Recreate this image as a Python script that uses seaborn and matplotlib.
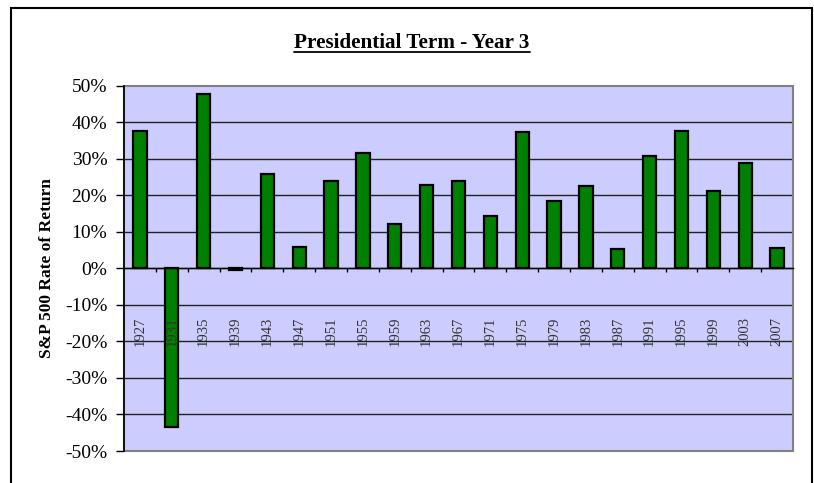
import matplotlib
matplotlib.use("Agg")
import matplotlib.pyplot as plt
import matplotlib.patches as mpatches
import matplotlib.lines as mlines
from matplotlib.ticker import FuncFormatter, FixedLocator
import seaborn as sns
import pandas as pd
import numpy as np

years = ["1927", "1931", "1935", "1939", "1943", "1947", "1951", "1955", "1959", "1963",
         "1967", "1971", "1975", "1979", "1983", "1987", "1991", "1995", "1999", "2003", "2007"]
returns = [37.5, -43.3, 47.7, -0.4, 25.9, 5.7, 24.0, 31.6, 12.0, 22.8,
           24.0, 14.3, 37.2, 18.4, 22.6, 5.2, 30.6, 37.6, 21.0, 28.7, 5.5]
title_text = "Presidential Term - Year 3"
ylabel_text = "S&P 500 Rate of Return"
yticks = [-50, -40, -30, -20, -10, 0, 10, 20, 30, 40, 50]

df = pd.DataFrame({"year": years, "ret": returns})

sns.set_theme(style="white")
plt.rcParams["font.family"] = ["Liberation Serif", "DejaVu Serif"]

W, H = 814, 483
fig = plt.figure(figsize=(W / 100, H / 100), dpi=100)
fig.patch.set_facecolor("white")

ax = fig.add_axes([124 / W, 1 - 451 / H, (793 - 124) / W, (451 - 85.5) / H])
ax.set_facecolor("#CCCCFF")
ax.set_axisbelow(False)

sns.barplot(data=df, x="year", y="ret", color="#008000", edgecolor="black",
            linewidth=1.6, width=0.42, saturation=1, ax=ax, zorder=1)

n = len(years)
ax.set_xlim(-0.5, n - 0.5)
ax.set_ylim(-50, 50)
ax.set_yticks(yticks)
ax.yaxis.set_major_formatter(FuncFormatter(lambda v, p: f"{v:.0f}%"))
ax.grid(False)
for v in yticks[1:-1]:
    ax.axhline(v, color="#222222", linewidth=1.0, zorder=0.3)

# spines
for s in ["top", "right"]:
    ax.spines[s].set_visible(False)
ax.spines["left"].set_color("black")
ax.spines["left"].set_linewidth(1.2)
ax.spines["bottom"].set_position(("data", 0))
ax.spines["bottom"].set_color("black")
ax.spines["bottom"].set_linewidth(1.0)

frame = mpatches.Rectangle((0, 0), 1, 1, transform=ax.transAxes, fill=False,
                           edgecolor="#808080", linewidth=1.5, clip_on=False, zorder=0.5)
ax.add_patch(frame)

ax.tick_params(axis="y", which="major", direction="out", length=6, width=1,
               color="black", pad=6, labelsize=14, labelcolor="black", left=True)
ax.xaxis.set_minor_locator(FixedLocator(np.arange(0.5, n - 1, 1)))
ax.tick_params(axis="x", which="minor", direction="out", length=3, width=1,
               color="black", bottom=True)
ax.tick_params(axis="x", which="major", length=0, pad=35, labelsize=10.5,
               labelcolor="#333333", labelrotation=90)
ax.set_xlabel("")
ax.set_ylabel("")

fig.text(47 / W, 1 - 268.5 / H, ylabel_text, rotation=90, ha="center", va="center",
         fontsize=12.5, fontweight="bold", color="black")

t = fig.text(412 / W, 1 - 48 / H, title_text, ha="center", va="baseline",
             fontsize=15.2, fontweight="bold", color="black")

# outer chart border
outer = mpatches.Rectangle((11 / W, -0.1), (812 - 11) / W, 1.1 - 8 / H,
                           transform=fig.transFigure, fill=False, edgecolor="black",
                           linewidth=1.5)
fig.patches.append(outer)

fig.canvas.draw()
bb = t.get_window_extent(renderer=fig.canvas.get_renderer())
uy = (bb.y0 + 1.5) / H
fig.lines.append(mlines.Line2D([bb.x0 / W, bb.x1 / W], [uy, uy], transform=fig.transFigure,
                               color="black", linewidth=1.3))

fig.savefig("out.png", dpi=100)
